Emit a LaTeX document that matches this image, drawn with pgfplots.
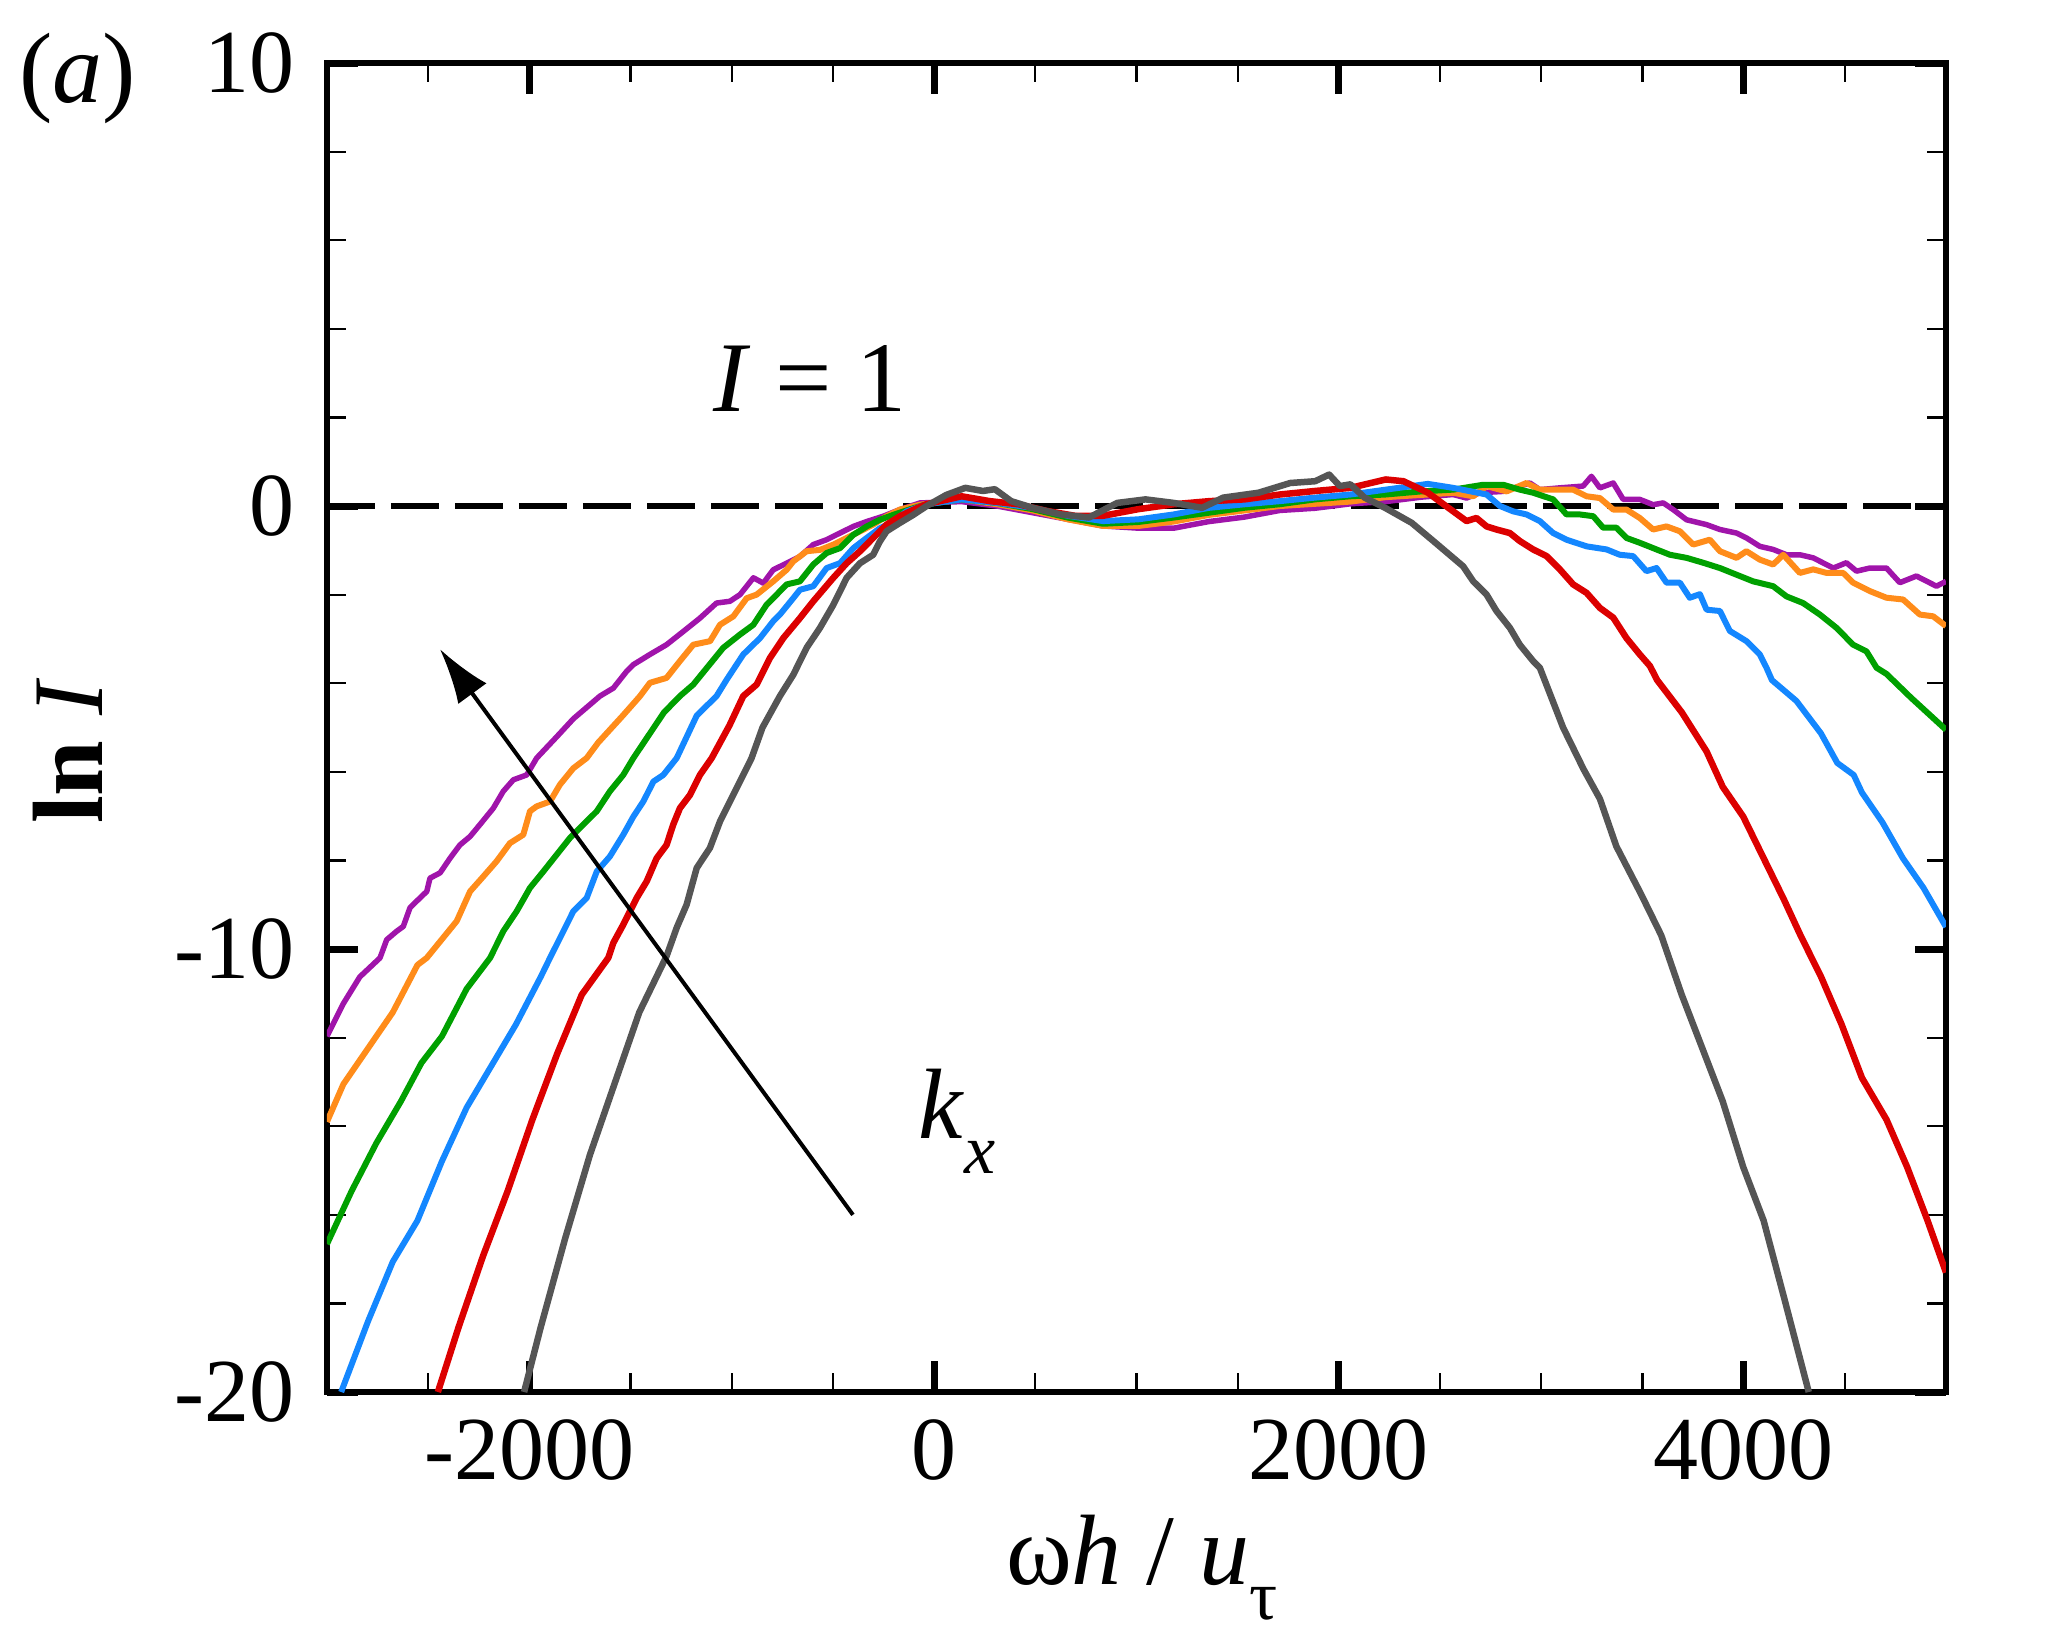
\documentclass[border=0pt]{standalone}
\usepackage{fontspec}
\setmainfont{Liberation Serif}
\usepackage{pgfplots}
\pgfplotsset{compat=1.18}
\usetikzlibrary{arrows.meta}
\definecolor{cgray}{RGB}{85,85,85}
\definecolor{cred}{RGB}{220,0,0}
\definecolor{cblue}{RGB}{20,135,255}
\definecolor{cgreen}{RGB}{0,160,0}
\definecolor{corange}{RGB}{255,140,26}
\definecolor{cpurple}{RGB}{160,20,170}
\begin{document}
\begin{tikzpicture}
\path[use as bounding box] (-65.4pt,-49.4pt) rectangle (344.2pt,278.4pt);
\begin{axis}[at={(0,0)}, anchor=south west, scale only axis,
 width=323.8pt, height=265.8pt,
 xmin=-3000, xmax=5000, ymin=-20, ymax=10,
 xtick={-2000,0,2000,4000}, xticklabels={-2000,0,2000,4000},
 minor xtick={-2500,-1500,-1000,-500,500,1000,1500,2500,3000,3500,4500},
 ytick={-20,-10,0,10}, yticklabels={-20,-10,0,10},
 minor ytick={-18,-16,-14,-12,-8,-6,-4,-2,2,4,6,8},
 tick align=inside, major tick length=6.2pt, minor tick length=3.8pt,
 every major tick/.append style={line width=1.4pt, black},
 every minor tick/.append style={line width=0.45pt, black},
 axis line style={line width=1.3pt},
 tick label style={font=\fontsize{18}{20}\selectfont},
 xticklabel style={yshift=-2pt},
 yticklabel style={xshift=-3pt},
 every axis plot/.append style={line width=1.2pt, line join=round},
]
\addplot[black, line width=1.35pt, dash pattern=on 9.6pt off 3.2pt] coordinates {(-3000,0) (5000,0)};
% purple
\addplot[cpurple, line width=1.1pt] coordinates {
(-3000,-11.97) (-2919,-11.23) (-2838,-10.63) (-2738,-10.20) (-2705,-9.79) (-2656,-9.6) (-2623,-9.49) (-2590,-9.07) (-2557,-8.92) (-2507,-8.70) (-2491,-8.40) (-2441,-8.28) (-2392,-7.95) (-2343,-7.65) (-2293,-7.46) (-2244,-7.19) (-2178,-6.82) (-2129,-6.44) (-2079,-6.18) (-2013,-6.07) (-1964,-5.69) (-1863,-5.2) (-1782,-4.8) (-1651,-4.29) (-1585,-4.11) (-1519,-3.73) (-1486,-3.58) (-1404,-3.35) (-1322,-3.13) (-1239,-2.83) (-1157,-2.53) (-1075,-2.19) (-1009,-2.15) (-959,-2.0) (-893,-1.62) (-844,-1.74) (-795,-1.44) (-729,-1.29) (-663,-1.14) (-597,-0.87) (-531,-0.76) (-465,-0.61) (-399,-0.46) (-333,-0.35) (-251,-0.23) (-169,-0.08) (-70,0.07) (136,0.1) (311,0.0) (486,-0.15) (660,-0.3) (835,-0.45) (1010,-0.5) (1184,-0.5) (1359,-0.35) (1533,-0.25) (1708,-0.1) (1882,-0.05) (2057,0.05) (2231,0.1) (2406,0.2) (2565,0.26) (2631,0.18) (2697,0.30) (2812,0.33) (2944,0.52) (2993,0.37) (3092,0.41) (3207,0.45) (3248,0.67) (3290,0.41) (3356,0.52) (3405,0.15) (3487,0.15) (3553,0.03) (3603,0.07) (3652,-0.08) (3718,-0.31) (3817,-0.42) (3883,-0.53) (3965,-0.61) (4014,-0.72) (4080,-0.91) (4146,-0.98) (4212,-1.10) (4278,-1.10) (4344,-1.17) (4443,-1.40) (4508,-1.28) (4558,-1.47) (4624,-1.40) (4706,-1.40) (4772,-1.73) (4854,-1.58) (4953,-1.81) (5000,-1.70)};
% orange
\addplot[corange] coordinates {
(-3000,-13.9) (-2919,-13.05) (-2797,-12.24) (-2675,-11.43) (-2553,-10.36) (-2507,-10.20) (-2441,-9.83) (-2359,-9.37) (-2293,-8.70) (-2227,-8.36) (-2162,-8.02) (-2096,-7.61) (-2030,-7.42) (-1997,-6.89) (-1964,-6.78) (-1898,-6.67) (-1849,-6.29) (-1783,-5.92) (-1717,-5.69) (-1660,-5.34) (-1538,-4.73) (-1453,-4.29) (-1404,-3.99) (-1322,-3.88) (-1256,-3.5) (-1190,-3.13) (-1107,-3.05) (-1058,-2.68) (-992,-2.49) (-926,-2.08) (-877,-2.0) (-795,-1.70) (-729,-1.44) (-696,-1.25) (-630,-1.02) (-564,-0.99) (-498,-0.87) (-432,-0.72) (-366,-0.57) (-301,-0.42) (-235,-0.23) (-169,-0.08) (-70,0.03) (136,0.15) (311,0.04) (486,-0.1) (660,-0.3) (835,-0.45) (1010,-0.45) (1184,-0.35) (1359,-0.2) (1533,-0.1) (1708,0.0) (1882,0.05) (2057,0.1) (2231,0.2) (2406,0.25) (2565,0.30) (2664,0.22) (2730,0.45) (2829,0.33) (2927,0.52) (2993,0.37) (3059,0.37) (3158,0.37) (3224,0.22) (3290,0.18) (3356,-0.08) (3421,-0.08) (3487,-0.27) (3553,-0.53) (3619,-0.46) (3685,-0.57) (3751,-0.87) (3833,-0.76) (3883,-1.02) (3965,-1.17) (4014,-1.02) (4080,-1.21) (4146,-1.32) (4196,-1.10) (4278,-1.51) (4344,-1.43) (4410,-1.51) (4492,-1.51) (4541,-1.73) (4624,-1.92) (4706,-2.07) (4788,-2.11) (4871,-2.45) (4937,-2.49) (5000,-2.71)};
% green
\addplot[cgreen] coordinates {
(-3000,-16.66) (-2878,-15.46) (-2756,-14.38) (-2635,-13.44) (-2533,-12.57) (-2432,-11.97) (-2310,-10.9) (-2194,-10.20) (-2129,-9.6) (-2063,-9.15) (-1997,-8.62) (-1931,-8.25) (-1865,-7.87) (-1799,-7.49) (-1733,-7.19) (-1667,-6.89) (-1602,-6.44) (-1536,-6.07) (-1486,-5.69) (-1335,-4.66) (-1256,-4.29) (-1190,-4.03) (-1124,-3.66) (-1042,-3.2) (-959,-2.9) (-893,-2.68) (-828,-2.23) (-778,-2.0) (-729,-1.77) (-663,-1.70) (-597,-1.32) (-531,-1.06) (-465,-0.95) (-399,-0.65) (-333,-0.46) (-268,-0.31) (-202,-0.20) (-103,-0.05) (-38,0.04) (136,0.15) (311,0.07) (486,-0.07) (660,-0.26) (835,-0.4) (1010,-0.36) (1184,-0.26) (1359,-0.15) (1533,-0.04) (1708,0.04) (1882,0.15) (2057,0.22) (2231,0.26) (2406,0.33) (2565,0.37) (2713,0.48) (2812,0.48) (2894,0.37) (2960,0.30) (3059,0.15) (3125,-0.19) (3191,-0.19) (3257,-0.23) (3306,-0.49) (3372,-0.49) (3421,-0.72) (3487,-0.83) (3553,-0.95) (3636,-1.10) (3718,-1.17) (3800,-1.28) (3883,-1.40) (3965,-1.55) (4047,-1.70) (4146,-1.81) (4212,-2.04) (4294,-2.19) (4377,-2.45) (4459,-2.75) (4541,-3.13) (4607,-3.28) (4657,-3.65) (4706,-3.79) (4828,-4.33) (5000,-5.05)};
% blue
\addplot[cblue] coordinates {
(-2930,-20) (-2797,-18.4) (-2675,-17.06) (-2553,-16.13) (-2432,-14.79) (-2310,-13.58) (-2188,-12.64) (-2066,-11.7) (-1944,-10.63) (-1898,-10.20) (-1832,-9.6) (-1783,-9.15) (-1717,-8.85) (-1667,-8.25) (-1602,-7.91) (-1536,-7.42) (-1486,-7.01) (-1437,-6.67) (-1387,-6.22) (-1338,-6.07) (-1272,-5.69) (-1173,-4.73) (-1075,-4.29) (-1025,-3.92) (-943,-3.35) (-860,-2.98) (-795,-2.6) (-762,-2.45) (-696,-2.08) (-663,-1.89) (-597,-1.81) (-531,-1.40) (-465,-1.29) (-399,-0.95) (-333,-0.72) (-268,-0.50) (-202,-0.35) (-136,-0.12) (-38,0.04) (136,0.15) (311,0.07) (486,-0.04) (660,-0.22) (835,-0.34) (1010,-0.3) (1184,-0.19) (1359,-0.04) (1534,0.04) (1708,0.11) (1883,0.19) (2057,0.26) (2232,0.37) (2440,0.5) (2565,0.41) (2730,0.26) (2796,0.0) (2861,-0.12) (2927,-0.19) (2993,-0.34) (3059,-0.61) (3125,-0.76) (3224,-0.91) (3323,-0.98) (3388,-1.10) (3454,-1.13) (3520,-1.47) (3570,-1.40) (3619,-1.73) (3685,-1.73) (3734,-2.07) (3784,-1.99) (3817,-2.34) (3883,-2.37) (3932,-2.82) (4014,-3.05) (4080,-3.35) (4113,-3.65) (4140,-3.93) (4261,-4.4) (4382,-5.13) (4463,-5.8) (4544,-6.07) (4585,-6.47) (4686,-7.14) (4787,-7.95) (4889,-8.62) (5000,-9.5)};
% red
\addplot[cred, line width=1.3pt] coordinates {
(-2452,-20) (-2350,-18.54) (-2229,-16.93) (-2107,-15.46) (-1985,-13.85) (-1863,-12.37) (-1741,-11.03) (-1610,-10.20) (-1585,-9.86) (-1536,-9.45) (-1470,-8.85) (-1420,-8.47) (-1371,-7.95) (-1322,-7.65) (-1289,-7.19) (-1256,-6.82) (-1206,-6.52) (-1157,-6.07) (-1099,-5.69) (-1011,-4.95) (-943,-4.29) (-877,-4.03) (-811,-3.43) (-745,-2.98) (-663,-2.53) (-597,-2.15) (-498,-1.62) (-432,-1.29) (-366,-1.02) (-301,-0.72) (-235,-0.42) (-169,-0.23) (-86,-0.05) (-38,0.04) (136,0.22) (276,0.11) (416,0.04) (556,-0.11) (695,-0.22) (835,-0.22) (1010,-0.07) (1184,0.04) (1359,0.11) (1534,0.15) (1708,0.26) (1883,0.34) (2057,0.41) (2232,0.6) (2319,0.56) (2440,0.3) (2565,-0.12) (2631,-0.34) (2680,-0.27) (2730,-0.46) (2779,-0.53) (2845,-0.61) (2894,-0.79) (2960,-0.98) (3026,-1.13) (3092,-1.43) (3158,-1.77) (3224,-1.96) (3290,-2.30) (3356,-2.52) (3421,-2.98) (3487,-3.35) (3537,-3.61) (3573,-3.93) (3695,-4.66) (3817,-5.54) (3897,-6.34) (3998,-7.01) (4099,-7.95) (4200,-8.89) (4281,-9.69) (4383,-10.63) (4484,-11.7) (4585,-12.91) (4706,-13.85) (4808,-14.92) (4909,-16.13) (5000,-17.3)};
% gray
\addplot[cgray, line width=1.3pt] coordinates {
(-2026,-20) (-1944,-18.54) (-1823,-16.53) (-1701,-14.65) (-1579,-13.04) (-1457,-11.43) (-1322,-10.16) (-1272,-9.52) (-1223,-9.0) (-1173,-8.17) (-1108,-7.72) (-1058,-7.12) (-1009,-6.67) (-943,-6.07) (-902,-5.69) (-848,-5.0) (-762,-4.29) (-696,-3.81) (-630,-3.2) (-564,-2.75) (-498,-2.23) (-432,-1.62) (-366,-1.29) (-301,-1.1) (-268,-0.80) (-235,-0.57) (-169,-0.38) (-103,-0.2) (-37,0.0) (60,0.25) (154,0.41) (241,0.34) (300,0.38) (381,0.11) (486,-0.04) (626,-0.19) (765,-0.26) (905,0.07) (1045,0.15) (1184,0.07) (1324,-0.04) (1429,0.19) (1603,0.3) (1760,0.52) (1883,0.56) (1952,0.71) (2005,0.45) (2057,0.49) (2127,0.19) (2232,-0.05) (2360,-0.38) (2480,-0.84) (2565,-1.17) (2614,-1.36) (2664,-1.70) (2730,-2.0) (2779,-2.37) (2845,-2.75) (2894,-3.13) (2960,-3.50) (2993,-3.65) (3108,-5.0) (3209,-5.94) (3290,-6.61) (3371,-7.68) (3492,-8.75) (3593,-9.69) (3694,-11.03) (3796,-12.24) (3897,-13.44) (3998,-14.92) (4099,-16.13) (4200,-17.87) (4322,-20)};
\draw[black, line width=0.8pt, -{Latex[length=11pt,width=7pt]}] (axis cs:-401,-16.0) -- (axis cs:-2442,-3.23);
\node[font=\fontsize{20}{24}\selectfont] at (axis cs:-613,2.87) {\textit{I} = 1};
\node[font=\fontsize{20}{24}\selectfont] at (axis cs:113,-13.9) {\textit{k}\raisebox{-0.35em}{\fontsize{14}{16}\selectfont\textit{x}}};
\end{axis}
\node[font=\fontsize{20}{24}\selectfont] at (-49.8pt,262.8pt) {(\textit{a})};
\node[font=\fontsize{20}{24}\selectfont, rotate=90] at (-51.8pt,128.2pt) {\textbf{ln} \textit{I}};
\node[font=\fontsize{20}{24}\selectfont, anchor=base] at (163pt,-38.4pt) {ω\textit{h} / \textit{u}\raisebox{-0.35em}{\fontsize{14}{16}\selectfont τ}};
\end{tikzpicture}
\end{document}
